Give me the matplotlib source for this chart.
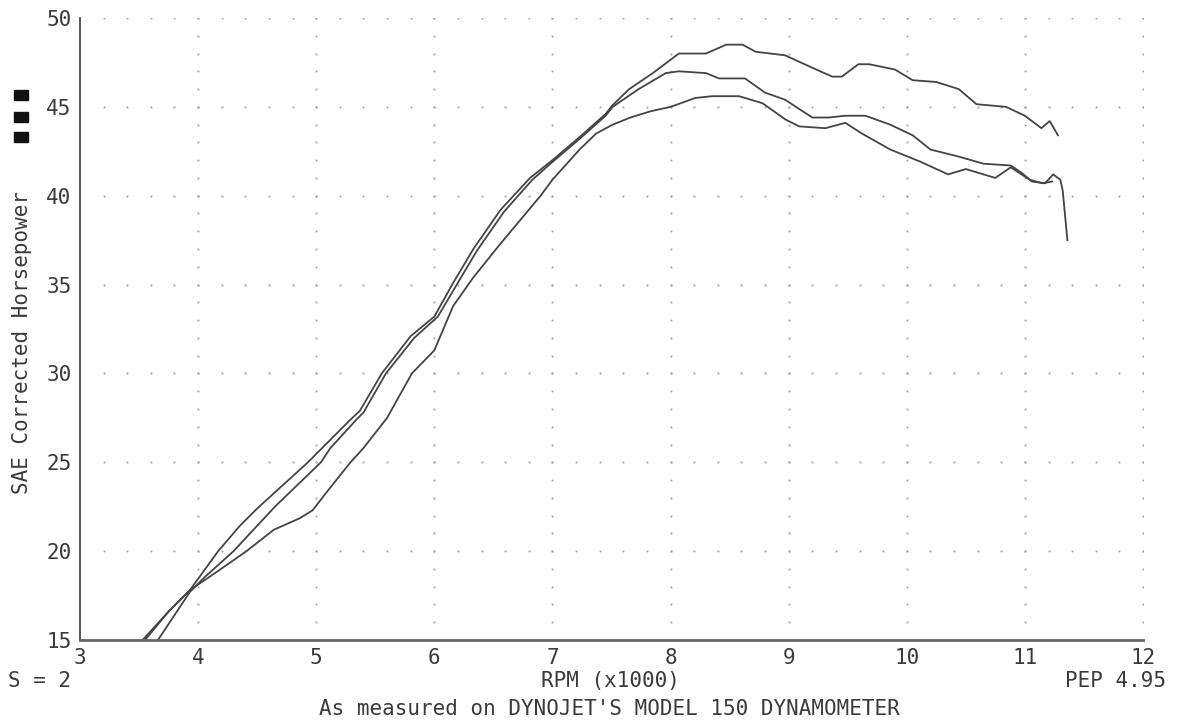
import matplotlib
matplotlib.use("Agg")
import matplotlib.pyplot as plt
import numpy as np
from matplotlib.patches import Rectangle

# three dyno runs (rpm x1000, SAE hp)
run_a_rpm = [3.53, 3.75, 3.93, 4.17, 4.35, 4.50, 4.93, 5.05, 5.29, 5.37, 5.555, 5.80, 6.00,
             6.16, 6.33, 6.56, 6.81, 7.00, 7.23, 7.45, 7.51, 7.65, 7.85, 8.07, 8.30, 8.47,
             8.61, 8.72, 8.97, 9.20, 9.37, 9.45, 9.59, 9.68, 9.90, 10.05, 10.25, 10.44,
             10.59, 10.84, 11.00, 11.14, 11.21, 11.28]
run_a_hp = [15.0, 16.6, 17.8, 20.0, 21.4, 22.4, 25.0, 25.8, 27.4, 27.9, 30.0, 32.1, 33.2,
            35.1, 37.0, 39.2, 41.0, 42.0, 43.3, 44.6, 45.1, 46.0, 46.9, 48.0, 48.0, 48.5,
            48.5, 48.1, 47.9, 47.2, 46.7, 46.7, 47.4, 47.4, 47.1, 46.5, 46.4, 46.0,
            45.15, 45.0, 44.5, 43.8, 44.2, 43.4]

run_b_rpm = [3.66, 3.80, 3.93, 4.05, 4.30, 4.65, 5.04, 5.12, 5.34, 5.40, 5.59, 5.83, 6.03,
             6.19, 6.36, 6.59, 6.83, 7.00, 7.23, 7.45, 7.51, 7.73, 7.96, 8.07, 8.30, 8.41,
             8.63, 8.80, 8.97, 9.20, 9.34, 9.48, 9.65, 9.86, 10.05, 10.20, 10.44, 10.65,
             10.88, 10.97, 11.06, 11.17, 11.24, 11.30, 11.32, 11.36]
run_b_hp = [15.0, 16.4, 17.7, 18.5, 20.0, 22.5, 25.0, 25.8, 27.4, 27.8, 30.0, 32.0, 33.2,
            35.0, 36.9, 39.1, 40.9, 41.9, 43.2, 44.5, 45.0, 46.0, 46.9, 47.0, 46.9, 46.6,
            46.6, 45.8, 45.4, 44.4, 44.4, 44.5, 44.5, 44.0, 43.4, 42.6, 42.2, 41.8,
            41.7, 41.3, 40.8, 40.7, 41.2, 40.9, 40.3, 37.5]

run_c_rpm = [3.55, 3.75, 3.93, 4.15, 4.41, 4.64, 4.86, 4.97, 5.08, 5.29, 5.40, 5.60, 5.81,
             6.00, 6.16, 6.33, 6.56, 6.90, 7.00, 7.23, 7.37, 7.51, 7.66, 7.83, 8.00, 8.21,
             8.35, 8.58, 8.78, 8.97, 9.09, 9.31, 9.48, 9.62, 9.86, 10.12, 10.35, 10.50,
             10.75, 10.88, 11.04, 11.15, 11.23]
run_c_hp = [15.0, 16.6, 17.8, 18.8, 20.0, 21.2, 21.85, 22.3, 23.25, 25.0, 25.8, 27.5, 30.0,
            31.3, 33.8, 35.4, 37.3, 40.0, 40.9, 42.6, 43.5, 44.0, 44.4, 44.75, 45.0, 45.5,
            45.6, 45.6, 45.2, 44.3, 43.9, 43.8, 44.1, 43.5, 42.6, 41.9, 41.2, 41.5,
            41.0, 41.6, 40.9, 40.7, 40.8]

x_ticks = [3, 4, 5, 6, 7, 8, 9, 10, 11, 12]
y_ticks = [15, 20, 25, 30, 35, 40, 45, 50]

mono = "DejaVu Sans Mono"
ink = "#3a3a3a"

fig = plt.figure(figsize=(11.88, 7.21), dpi=100)
ax = fig.add_axes([80 / 1188, 81 / 721, 1063 / 1188, 622 / 721])

# dotted grid like the plotter output
gx = np.arange(3.2, 12.01, 0.2)
for yv in y_ticks[1:]:
    ax.plot(gx, np.full_like(gx, yv), ls="none", marker="s", ms=1.3, color="#a0a0a0", mew=0)
gy = np.arange(16, 50.01, 1.0)
for xv in x_ticks[1:]:
    ax.plot(np.full_like(gy, xv), gy, ls="none", marker="s", ms=1.3, color="#a0a0a0", mew=0)

for r, h in [(run_a_rpm, run_a_hp), (run_b_rpm, run_b_hp), (run_c_rpm, run_c_hp)]:
    ax.plot(r, h, color="#444444", lw=1.3, solid_joinstyle="round")

ax.set_xlim(3, 12)
ax.set_ylim(15, 50)
ax.set_xticks(x_ticks)
ax.set_yticks(y_ticks)
ax.tick_params(length=0, labelsize=15, colors=ink, pad=6)
for lab in ax.get_xticklabels() + ax.get_yticklabels():
    lab.set_family(mono)
for s in ["top", "right"]:
    ax.spines[s].set_visible(False)
ax.spines["left"].set_color("#555555")
ax.spines["bottom"].set_color("#666666")
ax.spines["left"].set_linewidth(1.4)
ax.spines["bottom"].set_linewidth(2.0)

fig.text(22 / 1188, 1 - 342 / 721, "SAE Corrected Horsepower", rotation=90,
         ha="center", va="center", fontsize=15, family=mono, color=ink)
fig.text(8 / 1188, 1 - 681 / 721, "S = 2", ha="left", va="center",
         fontsize=15, family=mono, color=ink)
fig.text(610 / 1188, 1 - 681 / 721, "RPM (x1000)", ha="center", va="center",
         fontsize=15, family=mono, color=ink)
fig.text(1166 / 1188, 1 - 681 / 721, "PEP 4.95", ha="right", va="center",
         fontsize=15, family=mono, color=ink)
fig.text(609 / 1188, 1 - 709 / 721, "As measured on DYNOJET'S MODEL 150 DYNAMOMETER",
         ha="center", va="center", fontsize=15, family=mono, color=ink)

# three legend swatches on the left
for ytop in [90, 112, 132]:
    fig.patches.append(Rectangle((14 / 1188, 1 - (ytop + 10) / 721), 14 / 1188, 10 / 721,
                                 transform=fig.transFigure, color="#111111"))

fig.savefig("out.png", dpi=100)
